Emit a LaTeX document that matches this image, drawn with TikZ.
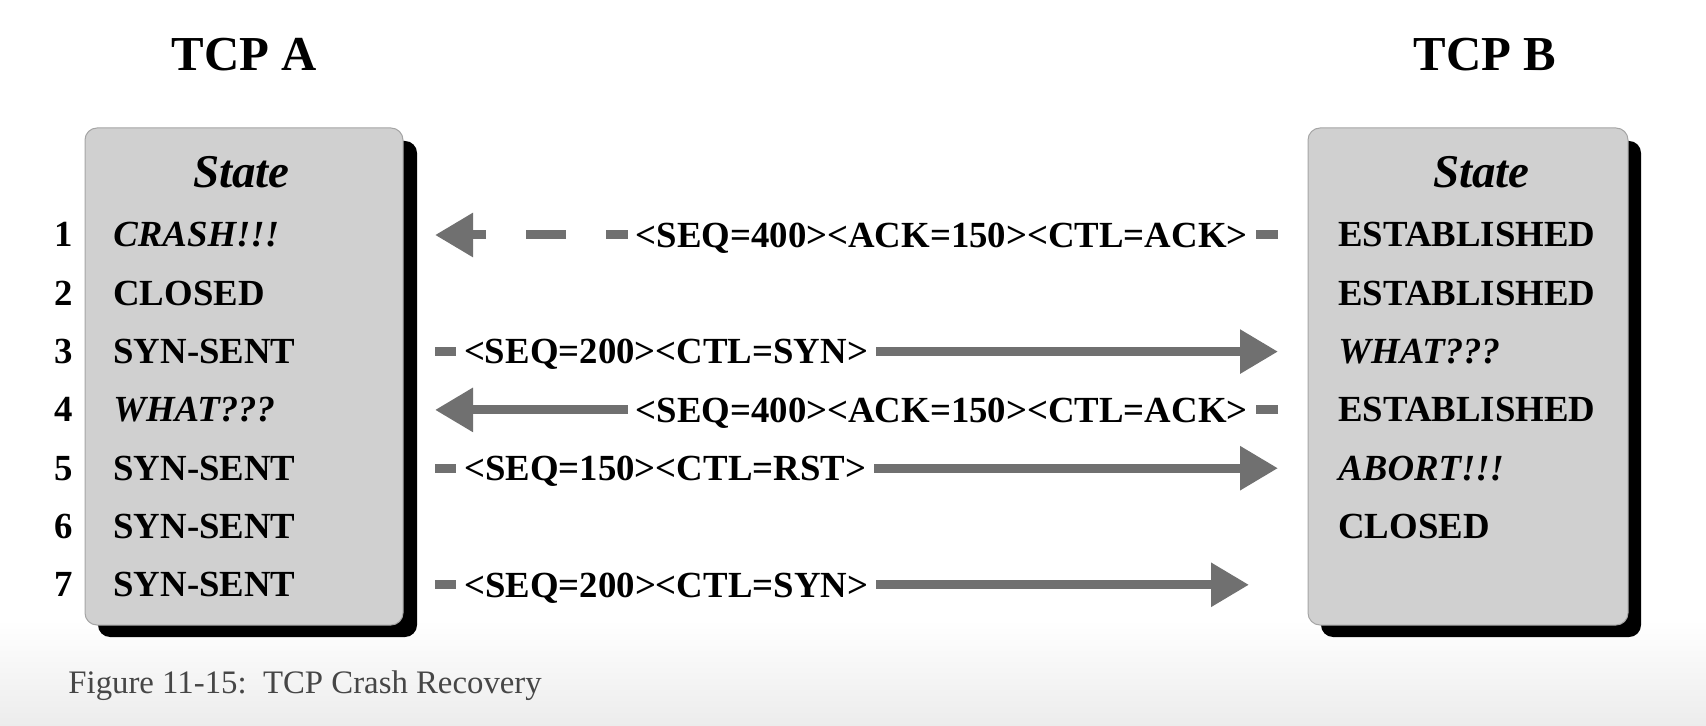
\documentclass[tikz,border=0pt]{standalone}
\usepackage{fontspec}
\setmainfont{Liberation Serif}
\usetikzlibrary{arrows.meta}
\definecolor{boxgray}{RGB}{208,208,208}
\definecolor{boxline}{RGB}{165,165,165}
\definecolor{arrowgray}{RGB}{112,112,112}
\definecolor{capgray}{RGB}{70,70,70}
\definecolor{bggray}{RGB}{236,236,236}

\begin{document}
\begin{tikzpicture}[x=0.5pt, y=-0.5pt,
    box/.style = {draw=boxline, line width=0.5pt, fill=boxgray, rounded corners=6pt},
    boxshadow/.style = {fill=black, rounded corners=6pt},
    title/.style = {anchor=base, inner sep=0pt, font=\fontsize{24.4}{28}\selectfont\bfseries},
    head/.style = {anchor=base, inner sep=0pt, font=\fontsize{23.5}{28}\selectfont\bfseries\itshape},
    num/.style = {anchor=base, inner sep=0pt, font=\fontsize{18.4}{22}\selectfont\bfseries},
    st/.style = {anchor=base west, inner sep=0pt, font=\fontsize{18.4}{22}\selectfont\bfseries},
    sti/.style = {st, font=\fontsize{18.4}{22}\selectfont\bfseries\itshape},
    msg/.style = {fill=white, inner xsep=4pt, inner ysep=0pt, text height=12.2pt, text depth=0pt,
                  font=\fontsize{18.4}{22}\selectfont\bfseries},
    arr/.style = {draw=arrowgray, line width=4.5pt, -{Triangle[length=19pt, width=21pt]}},
    dasharr/.style = {arr, dash pattern=on 20pt off 20pt, dash phase=4pt}]
    \useasboundingbox (0,0) rectangle (1706,726);
    % Background
    \shade[top color=white, bottom color=bggray] (0,620) rectangle (1706,726);
    % Boxes
    \fill[boxshadow] (98,141) rectangle (417,637);
    \draw[box] (85,128) rectangle (403,625);
    \fill[boxshadow] (1321,141) rectangle (1641,637);
    \draw[box] (1308,128) rectangle (1628,625);
    % Nodes
    \node[title] (tcpA) at (244.5,71) {TCP A};
    \node[title] (tcpB) at (1485,71) {TCP B};
    \node[head] (stateA) at (241.5,188) {State};
    \node[head] (stateB) at (1481.5,188) {State};
    \node[num] (n1) at (64,247) {1};
    \node[num] (n2) at (64,305.3) {2};
    \node[num] (n3) at (64,363.6) {3};
    \node[num] (n4) at (64,421.9) {4};
    \node[num] (n5) at (64,480.2) {5};
    \node[num] (n6) at (64,538.5) {6};
    \node[num] (n7) at (64,596.8) {7};
    \node[sti] (sa1) at (113,247) {CRASH!!!};
    \node[st] (sa2) at (113,305.3) {CLOSED};
    \node[st] (sa3) at (113,363.6) {SYN-SENT};
    \node[sti] (sa4) at (113,421.9) {WHAT???};
    \node[st] (sa5) at (113,480.2) {SYN-SENT};
    \node[st] (sa6) at (113,538.5) {SYN-SENT};
    \node[st] (sa7) at (113,596.8) {SYN-SENT};
    \node[st] (sb1) at (1338,247) {ESTABLISHED};
    \node[st] (sb2) at (1338,305.3) {ESTABLISHED};
    \node[sti] (sb3) at (1338,363.6) {WHAT???};
    \node[st] (sb4) at (1338,421.9) {ESTABLISHED};
    \node[sti] (sb5) at (1338,480.2) {ABORT!!!};
    \node[st] (sb6) at (1338,538.5) {CLOSED};
    % Arrow ends
    \coordinate (a1) at (435,235);
    \coordinate (b1) at (1278,235);
    \coordinate (a3) at (435,351.6);
    \coordinate (b3) at (1278,351.6);
    \coordinate (a4) at (435,409.9);
    \coordinate (b4) at (1278,409.9);
    \coordinate (a5) at (435,468.2);
    \coordinate (b5) at (1278,468.2);
    \coordinate (a7) at (435,584.8);
    \coordinate (b7) at (1249,584.8);
    % Edges
    \draw[dasharr] (b1) -- node[msg, pos=0.399] (m1) {<SEQ=400><ACK=150><CTL=ACK>} (a1);
    \draw[arr] (a3) -- node[msg, pos=0.274] (m3) {<SEQ=200><CTL=SYN>} (b3);
    \draw[arr] (b4) -- node[msg, pos=0.399] (m4) {<SEQ=400><ACK=150><CTL=ACK>} (a4);
    \draw[arr] (a5) -- node[msg, pos=0.273] (m5) {<SEQ=150><CTL=RST>} (b5);
    \draw[arr] (a7) -- node[msg, pos=0.284] (m7) {<SEQ=200><CTL=SYN>} (b7);
    % Caption
    \node[anchor=base west, inner sep=0pt, text=capgray, font=\fontsize{16.4}{20}\selectfont]
        (cap) at (68,693) {Figure 11-15:\ \ TCP Crash Recovery};
\end{tikzpicture}
\end{document}
